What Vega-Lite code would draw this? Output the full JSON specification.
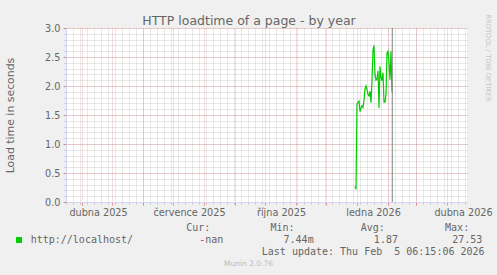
{
  "$schema": "https://vega.github.io/schema/vega-lite/v6.json",
  "width": 401,
  "height": 174,
  "autosize": {"type": "none"},
  "padding": {"left": 66, "top": 28, "right": 30, "bottom": 73},
  "background": "#F0F0F0",
  "config": {
    "view": {"fill": "#FFFFFF", "stroke": null},
    "axis": {"labelFont": "DejaVu Sans", "titleFont": "DejaVu Sans", "labelColor": "#666666", "titleColor": "#666666", "labelFontSize": 9.7, "titleFontWeight": "normal"}
  },
  "datasets": {
    "load": [
      {"date": "2025-12-30", "value": 0.27, "series": "http://localhost/"},
      {"date": "2025-12-31", "value": 0.22, "series": "http://localhost/"},
      {"date": "2026-01-01", "value": 1.69, "series": "http://localhost/"},
      {"date": "2026-01-02", "value": 1.72, "series": "http://localhost/"},
      {"date": "2026-01-03", "value": 1.74, "series": "http://localhost/"},
      {"date": "2026-01-04", "value": 1.56, "series": "http://localhost/"},
      {"date": "2026-01-05", "value": 1.62, "series": "http://localhost/"},
      {"date": "2026-01-06", "value": 1.66, "series": "http://localhost/"},
      {"date": "2026-01-07", "value": 1.63, "series": "http://localhost/"},
      {"date": "2026-01-08", "value": 1.75, "series": "http://localhost/"},
      {"date": "2026-01-09", "value": 1.95, "series": "http://localhost/"},
      {"date": "2026-01-10", "value": 2.00, "series": "http://localhost/"},
      {"date": "2026-01-11", "value": 1.94, "series": "http://localhost/"},
      {"date": "2026-01-12", "value": 1.85, "series": "http://localhost/"},
      {"date": "2026-01-13", "value": 1.83, "series": "http://localhost/"},
      {"date": "2026-01-14", "value": 1.91, "series": "http://localhost/"},
      {"date": "2026-01-15", "value": 1.71, "series": "http://localhost/"},
      {"date": "2026-01-16", "value": 2.10, "series": "http://localhost/"},
      {"date": "2026-01-17", "value": 2.62, "series": "http://localhost/"},
      {"date": "2026-01-18", "value": 2.70, "series": "http://localhost/"},
      {"date": "2026-01-19", "value": 2.20, "series": "http://localhost/"},
      {"date": "2026-01-20", "value": 2.10, "series": "http://localhost/"},
      {"date": "2026-01-21", "value": 2.12, "series": "http://localhost/"},
      {"date": "2026-01-22", "value": 2.26, "series": "http://localhost/"},
      {"date": "2026-01-23", "value": 1.62, "series": "http://localhost/"},
      {"date": "2026-01-24", "value": 2.34, "series": "http://localhost/"},
      {"date": "2026-01-25", "value": 2.15, "series": "http://localhost/"},
      {"date": "2026-01-26", "value": 2.09, "series": "http://localhost/"},
      {"date": "2026-01-27", "value": 2.23, "series": "http://localhost/"},
      {"date": "2026-01-28", "value": 1.72, "series": "http://localhost/"},
      {"date": "2026-01-29", "value": 1.72, "series": "http://localhost/"},
      {"date": "2026-01-30", "value": 1.85, "series": "http://localhost/"},
      {"date": "2026-01-31", "value": 2.57, "series": "http://localhost/"},
      {"date": "2026-02-01", "value": 2.60, "series": "http://localhost/"},
      {"date": "2026-02-02", "value": 2.40, "series": "http://localhost/"},
      {"date": "2026-02-03", "value": 2.11, "series": "http://localhost/"},
      {"date": "2026-02-04", "value": 2.60, "series": "http://localhost/"},
      {"date": "2026-02-05", "value": 1.90, "series": "http://localhost/"}
    ],
    "now": [{"date": "2026-02-05T06:15:06Z"}]
  },
  "layer": [
    {
      "data": {"name": "load"},
      "mark": {"type": "line", "strokeOpacity": 0},
      "encoding": {
        "x": {
          "field": "date", "type": "temporal",
          "scale": {"type": "utc", "domain": [{"year": 2025, "month": 3, "date": 16, "utc": true}, {"year": 2026, "month": 4, "date": 21, "utc": true}]},
          "axis": {"orient": "bottom", "tickCount": {"interval": "week", "step": 1}, "grid": true, "gridColor": "#808080", "gridOpacity": 0.35, "gridDash": [1, 1], "labels": false, "domain": false, "ticks": true, "tickColor": "#808080", "tickOpacity": 0.4, "tickSize": 2,
            "title": "Cur:\u00a0\u00a0\u00a0\u00a0\u00a0\u00a0\u00a0\u00a0\u00a0\u00a0Min:\u00a0\u00a0\u00a0\u00a0\u00a0\u00a0\u00a0\u00a0\u00a0\u00a0\u00a0Avg:\u00a0\u00a0\u00a0\u00a0\u00a0\u00a0\u00a0\u00a0\u00a0\u00a0Max:",
            "titleFont": "DejaVu Sans Mono", "titleFontSize": 10, "titleColor": "#666666", "titleX": 119.7, "titleY": 25.5, "titleAlign": "left", "titleBaseline": "middle", "titleAnchor": null}
        },
        "y": {
          "field": "value", "type": "quantitative",
          "scale": {"domain": [0, 3], "nice": false, "zero": false},
          "axis": {"orient": "left", "values": [0, 0.1, 0.2, 0.3, 0.4, 0.5, 0.6, 0.7, 0.8, 0.9, 1.0, 1.1, 1.2, 1.3, 1.4, 1.5, 1.6, 1.7, 1.8, 1.9, 2.0, 2.1, 2.2, 2.3, 2.4, 2.5, 2.6, 2.7, 2.8, 2.9, 3.0], "grid": true, "gridColor": "#808080", "gridOpacity": 0.35, "gridDash": [1, 1], "labels": false, "domain": false, "ticks": true, "tickColor": "#808080", "tickOpacity": 0.4, "tickSize": 2, "title": null}
        }
      }
    },
    {
      "data": {"name": "load"},
      "mark": {"type": "line", "strokeOpacity": 0},
      "encoding": {
        "x": {
          "field": "date", "type": "temporal",
          "axis": {
            "orient": "bottom", "tickCount": {"interval": "month", "step": 1}, "grid": true, "gridColor": "#E04F4F", "gridOpacity": 0.4, "gridDash": [1, 1],
            "ticks": true, "tickColor": "#E04F4F", "tickOpacity": 0.6, "tickSize": 3, "domain": true, "domainColor": "#CFD6F8",
            "labelExpr": "utcmonth(datum.value) == 3 ? 'dubna ' + utcyear(datum.value) : utcmonth(datum.value) == 6 ? 'července ' + utcyear(datum.value) : utcmonth(datum.value) == 9 ? 'října ' + utcyear(datum.value) : utcmonth(datum.value) == 0 ? 'ledna ' + utcyear(datum.value) : ''",
            "labelOffset": 16, "labelPadding": 2, "labelOverlap": false, "labelFlush": false, "labelBound": false, "labelAlign": "center",
            "title": "Last update: Thu Feb\u00a0\u00a05 06:15:06 2026", "titleFont": "DejaVu Sans Mono", "titleFontSize": 10, "titleColor": "#666666",
            "titleX": 195.3, "titleY": 49.5, "titleAlign": "left", "titleBaseline": "middle", "titleAnchor": null
          }
        },
        "y": {
          "field": "value", "type": "quantitative",
          "axis": {
            "orient": "left", "values": [0, 0.5, 1, 1.5, 2, 2.5, 3], "format": ".1f", "grid": true, "gridColor": "#E04F4F", "gridOpacity": 0.4, "gridDash": [1, 1],
            "ticks": true, "tickColor": "#E04F4F", "tickOpacity": 0.6, "tickSize": 3, "domain": true, "domainColor": "#CFD6F8", "labelPadding": 3,
            "title": "Load time in seconds", "titleFontSize": 10.9, "titleX": -55.2, "titleY": 87, "titleAngle": 270, "titleAlign": "center", "titleBaseline": "middle"
          }
        }
      }
    },
    {
      "data": {"name": "load"},
      "mark": {"type": "line", "strokeWidth": 1.2},
      "encoding": {
        "x": {
          "field": "date", "type": "temporal",
          "axis": {"orient": "top", "labels": false, "ticks": false, "domain": false, "grid": false, "title": "HTTP loadtime of a page - by year", "titleFontSize": 12.5, "titleColor": "#666666", "titleX": 182.5, "titleY": -4, "titleAlign": "center", "titleBaseline": "alphabetic"}
        },
        "y": {
          "field": "value", "type": "quantitative",
          "axis": {"orient": "right", "labels": false, "ticks": false, "domain": false, "grid": false, "title": "RRDTOOL / TOBI OETIKER", "titleFontSize": 6.8, "titleColor": "#C4C4C4", "titleX": 20, "titleY": 29.5, "titleAngle": 90, "titleAlign": "center", "titleBaseline": "middle"}
        },
        "color": {
          "field": "series", "type": "nominal",
          "scale": {"range": ["#00CC00"]},
          "legend": {
            "orient": "none", "legendX": -52, "legendY": 207, "direction": "vertical", "padding": 0, "title": null,
            "labelFont": "DejaVu Sans Mono", "labelFontSize": 10, "labelColor": "#666666", "labelLimit": 600, "labelOffset": 6.7,
            "labelExpr": "datum.label + '\u00a0\u00a0\u00a0\u00a0\u00a0\u00a0\u00a0\u00a0\u00a0\u00a0\u00a0-nan\u00a0\u00a0\u00a0\u00a0\u00a0\u00a0\u00a0\u00a0\u00a0\u00a07.44m\u00a0\u00a0\u00a0\u00a0\u00a0\u00a0\u00a0\u00a0\u00a0\u00a01.87\u00a0\u00a0\u00a0\u00a0\u00a0\u00a0\u00a0\u00a0\u00a027.53'",
            "symbolType": "square", "symbolSize": 36,
            "encode": {"symbols": {"update": {"fill": {"value": "#00CC00"}, "stroke": {"value": "transparent"}, "strokeWidth": {"value": 0}, "shape": {"value": "square"}, "size": {"value": 36}, "opacity": {"value": 1}}}}
          }
        }
      }
    },
    {
      "data": {"name": "now"},
      "mark": {"type": "rule", "color": "#808080", "strokeWidth": 1},
      "encoding": {
        "x": {
          "field": "date", "type": "temporal",
          "axis": {"orient": "bottom", "labels": false, "ticks": false, "domain": false, "grid": false, "title": "Munin 2.0.76", "titleFontSize": 7.5, "titleColor": "#BBBBBB", "titleX": 182, "titleY": 61.7, "titleAlign": "center", "titleBaseline": "middle"}
        }
      }
    }
  ],
  "resolve": {"scale": {"x": "shared", "y": "shared"}, "axis": {"x": "independent", "y": "independent"}}
}
